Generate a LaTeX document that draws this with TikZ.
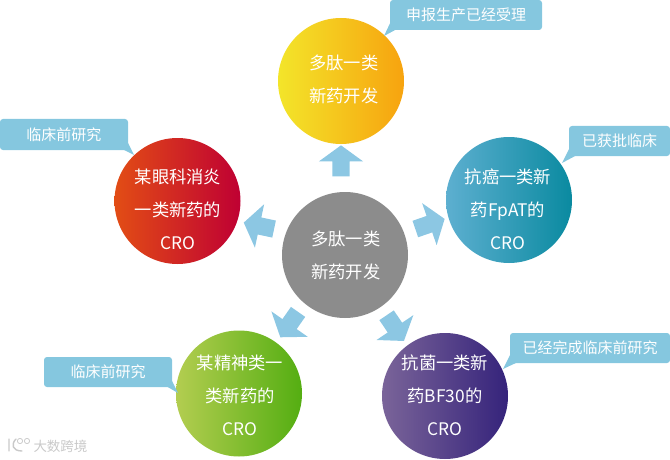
\documentclass[tikz,border=0pt]{standalone}
\usepackage{fontspec}
\setmainfont{Noto Sans CJK SC}
\usetikzlibrary{shapes.arrows}

\definecolor{noteblue}{HTML}{85C7DF}
\definecolor{arrowblue}{HTML}{8CC7E3}
\definecolor{coregray}{HTML}{8C8C8C}
\definecolor{markgray}{HTML}{C9C9C9}

\tikzset{
  bubble/.style={circle, minimum size=126pt, inner sep=0pt},
  bubbletext/.style={align=center, text=white, inner sep=0pt, font=\fontsize{17.3}{33}\selectfont},
  note/.style={fill=noteblue, rounded corners=3pt, text=white, inner sep=0pt, minimum height=30pt, font=\fontsize{15}{18}\selectfont},
  tail/.style={fill=noteblue},
  blockarrow/.style={single arrow, fill=arrowblue, inner xsep=0pt, inner ysep=8.5pt, minimum height=31pt,
    single arrow head extend=13.5pt, single arrow tip angle=108},
}

\begin{document}
\begin{tikzpicture}[x=1pt, y=1pt, line cap=round, line join=round]
\useasboundingbox (0,0) rectangle (670,459);

% ----------------------------
% CIRCLES
% ----------------------------
\definecolor{topA}{HTML}{F3E52A}\definecolor{topB}{HTML}{F7A30F}
\definecolor{eyeA}{HTML}{E24D15}\definecolor{eyeB}{HTML}{BF0033}
\definecolor{cancerA}{HTML}{5DAFD0}\definecolor{cancerB}{HTML}{0A8AA0}
\definecolor{mindA}{HTML}{B3CD50}\definecolor{mindB}{HTML}{54AE12}
\definecolor{germA}{HTML}{7A6499}\definecolor{germB}{HTML}{35237B}

\node[bubble, fill=coregray] (core) at (345,204) {};
\node[bubble, left color=topA, right color=topB] (top) at (341,378) {};
\node[bubble, left color=eyeA, right color=eyeB] (eye) at (177.5,258) {};
\node[bubble, left color=cancerA, right color=cancerB] (cancer) at (509,259) {};
\node[bubble, left color=mindA, right color=mindB] (mind) at (239,65.5) {};
\node[bubble, left color=germA, right color=germB] (germ) at (445,63) {};

% ----------------------------
% CIRCLE TEXTS
% ----------------------------
\node[bubbletext] (coretext) at (345.7,204) {多肽一类\\新药开发};
\node[bubbletext] (toptext) at (343.7,380) {多肽一类\\新药开发};
\node[bubbletext] (eyetext) at (178,250) {某眼科消炎\\一类新药的\\CRO};
\node[bubbletext] (cancertext) at (508,250) {抗癌一类新\\药FpAT的\\CRO};
\node[bubbletext] (mindtext) at (240,64) {某精神类一\\类新药的\\CRO};
\node[bubbletext] (germtext) at (445,63.5) {抗菌一类新\\药BF30的\\CRO};

% ----------------------------
% NOTES
% ----------------------------
\coordinate (toptip) at (384,423);
\coordinate (eyetip) at (134,304);
\coordinate (cancertip) at (562,296);
\coordinate (mindtip) at (178,66);
\coordinate (germtip) at (503,90);

\fill[tail] (397,430) -- (toptip) -- (392,440) -- cycle;
\fill[tail] (122,310) -- (eyetip) -- (128,316) -- cycle;
\fill[tail] (577,304) -- (cancertip) -- (570,312) -- cycle;
\fill[tail] (166,73) -- (mindtip) -- (172,78) -- cycle;
\fill[tail] (518,97) -- (germtip) -- (511,106) -- cycle;

\node[note, minimum width=152pt] (topnote) at (466,444) {申报生产已经受理};
\node[note, minimum width=128pt, minimum height=31pt] (eyenote) at (64,324.5) {临床前研究};
\node[note, minimum width=101pt] (cancernote) at (619.5,318) {已获批临床};
\node[note, minimum width=128pt] (mindnote) at (108,87) {临床前研究};
\node[note, minimum width=160pt] (germnote) at (590,111) {已经完成临床前研究};

% ----------------------------
% ARROWS
% ----------------------------
\node[blockarrow, rotate=90] (toparrow) at (341,295) {};
\node[blockarrow, rotate=168] (eyearrow) at (262,232.5) {};
\node[blockarrow, rotate=19] (cancerarrow) at (427,234) {};
\node[blockarrow, rotate=235] (mindarrow) at (291,137) {};
\node[blockarrow, rotate=-56] (germarrow) at (393.5,133.5) {};

% ----------------------------
% WATERMARK
% ----------------------------
\node[text=markgray, font=\fontsize{13.5}{16}\selectfont] (mark) at (60.5,13) {大数跨境};
\draw[markgray, line width=1.4pt] (9,20) -- (9,8) (16,20) .. controls (11,15) and (12,8) .. (22,8);
\draw[markgray, line width=0.8pt] (20,18) circle (2.6pt) (27,18) circle (2.6pt);

\end{tikzpicture}
\end{document}
